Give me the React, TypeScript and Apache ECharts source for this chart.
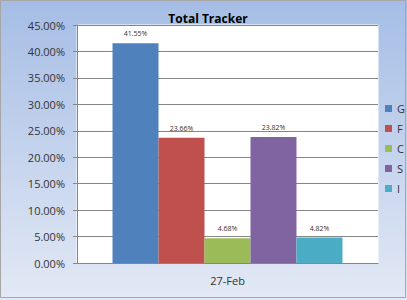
import React, { useEffect, useRef } from "react";
import * as echarts from "echarts";

const categories = ["27-Feb"];
const seriesNames = ["G", "F", "C", "S", "I"];
const seriesValues = [41.55, 23.66, 4.68, 23.82, 4.82];
const seriesColors = ["#4f81bd", "#c0504d", "#9bbb59", "#8064a2", "#4bacc6"];

export default function App() {
  const ref = useRef<HTMLDivElement>(null);
  useEffect(() => {
    if (!ref.current) return;
    const chart = echarts.init(ref.current, null, { renderer: "svg" });
    chart.setOption({
      animation: false,
      backgroundColor: {
        type: "linear",
        x: 0, y: 0, x2: 0, y2: 1,
        colorStops: [
          { offset: 0, color: "#a5bde5" },
          { offset: 1, color: "#e3e9f5" },
        ],
      },
      graphic: [
        {
          type: "rect",
          shape: { x: 0.5, y: 0.5, width: 405, height: 297 },
          style: { fill: "none", stroke: "#a6a6a6", lineWidth: 1 },
          silent: true,
        },
      ],
      title: {
        text: "Total Tracker",
        left: 203,
        textAlign: "center",
        top: 7,
        textStyle: { fontFamily: "Open Sans", fontWeight: "bold", fontSize: 12, color: "#000" },
      },
      legend: {
        orient: "vertical",
        left: 380,
        top: 98,
        itemWidth: 7,
        itemHeight: 7,
        itemGap: 9,
        itemStyle: { borderWidth: 0 },
        icon: "rect",
        data: seriesNames,
        textStyle: { fontFamily: "Open Sans", fontSize: 11, color: "#333" },
      },
      grid: { left: 77, right: 29, top: 25, bottom: 37, backgroundColor: "#fff", show: true, borderWidth: 1, borderColor: "#ffffff" },
      xAxis: {
        type: "category",
        data: categories,
        axisLine: { show: true, lineStyle: { color: "#868686" } },
        axisTick: { show: false },
        axisLabel: { fontFamily: "Open Sans", fontSize: 11, color: "#333", margin: 12 },
      },
      yAxis: {
        type: "value",
        min: 0,
        max: 45,
        interval: 5,
        axisLine: { show: true, lineStyle: { color: "#868686" } },
        axisTick: { show: true, length: 4, lineStyle: { color: "#868686" } },
        splitLine: { lineStyle: { color: "#868686" } },
        axisLabel: {
          fontFamily: "Open Sans",
          fontSize: 11,
          color: "#333",
          margin: 12,
          formatter: (v: number) => v.toFixed(2) + "%",
        },
      },
      series: seriesNames.map((name, i) => ({
        name,
        type: "bar",
        data: [seriesValues[i]],
        barGap: "0%",
        barCategoryGap: "23.6%",
        itemStyle: { color: seriesColors[i] },
        label: {
          show: true,
          position: "top",
          distance: 6,
          fontFamily: "Open Sans",
          fontSize: 7,
          color: "#333",
          formatter: (p: any) => Number(p.value).toFixed(2) + "%",
        },
      })),
    });
    return () => chart.dispose();
  }, []);
  return (
    <div
      ref={ref}
      style={{
        position: "absolute",
        left: 0,
        top: 0,
        width: 407,
        height: 300,
      }}
    />
  );
}
